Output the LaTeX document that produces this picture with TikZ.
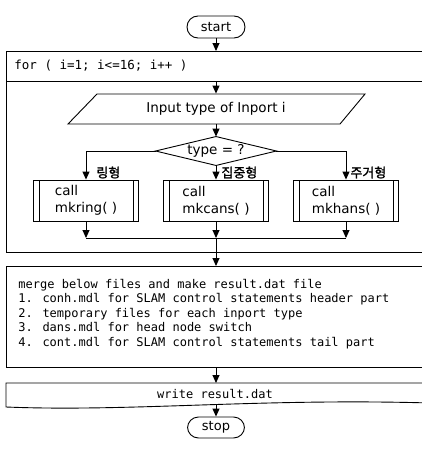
\documentclass[tikz,border=0pt]{standalone}
\usepackage{fontspec}
\setmainfont{DejaVu Sans}
\newfontfamily\monof{DejaVu Sans Mono}
\newfontfamily\kor[FakeBold=1.5]{Noto Sans CJK KR}
\usetikzlibrary{arrows.meta,shapes.geometric}
\begin{document}
\begin{tikzpicture}[x=1pt,y=-1pt,
  line width=0.9pt,
  arr/.style={-{Triangle[length=8pt,width=7pt]}},
  term/.style={draw,rounded corners=11pt,minimum width=58pt,minimum height=22pt,inner sep=0pt,font=\fontsize{13}{15}\selectfont},
  txt/.style={inner sep=0pt,font=\fontsize{13.5}{16}\selectfont},
  mono/.style={inner sep=0pt,font=\monof\fontsize{12}{14.5}\selectfont},
  korlab/.style={inner sep=0pt,anchor=west,font=\kor\fontsize{13}{15}\selectfont},
  predef/.style={draw,minimum width=105pt,minimum height=41pt,inner sep=0pt,align=left,
    font=\fontsize{13.5}{17}\selectfont,
    path picture={
      \draw ([xshift=5.5pt]path picture bounding box.north west) -- ([xshift=5.5pt]path picture bounding box.south west);
      \draw ([xshift=-5.5pt]path picture bounding box.north east) -- ([xshift=-5.5pt]path picture bounding box.south east);}},
  dec/.style={minimum width=120pt,minimum height=28pt,inner sep=0pt,font=\fontsize{13.5}{16}\selectfont}
]
\useasboundingbox (0,0) rectangle (422,453);
\clip (0,0) rectangle (422,453);

% start
\node[term] (start) at (216,27) {start};

% for loop frame
\draw (430,51) -- (6,51) -- (6,252) -- (430,252);
\draw (6,81) -- (430,81);
\coordinate (fortop) at (216,51);
\coordinate (forsep) at (216,81);
\coordinate (loopbot) at (216,252);
\node[mono,anchor=west,font=\monof\fontsize{12.5}{15}\selectfont] (fortext) at (14,66) {for ( i=1; i<=16; i++ )};

\draw[arr] (start.south) -- (fortop);

% input parallelogram
\draw (97,94) -- (365,94) -- (340,124) -- (68,124) -- cycle;
\node[txt,minimum height=30pt] (inp) at (216,109) {Input type of Inport i};
\draw[arr] (forsep) -- (inp.north);

% decision
\node[dec] (dec) at (216,151) {type = ?};
\draw (dec.north) -- (dec.east) -- (dec.south) -- (dec.west) -- cycle;
\draw[arr] (inp.south) -- (dec.north);

% call boxes
\node[predef] (b1) at (86,200.5) {call\\mkring( )};
\node[predef] (b2) at (216,200.5) {call\\mkcans( )};
\node[predef] (b3) at (346,200.5) {call\\mkhans( )};

\draw[arr] (dec.west) -| (b1.north);
\draw[arr] (dec.south) -- (b2.north);
\draw[arr] (dec.east) -| (b3.north);

\node[korlab] (l1) at (96,172.5) {링형};
\node[korlab] (l2) at (221,172.5) {집중형};
\node[korlab] (l3) at (350,172.5) {주거형};

% join
\coordinate (jn) at (216,238);
\draw[arr] (b1.south) -- (b1.south |- jn);
\draw[arr] (b2.south) -- (jn);
\draw[arr] (b3.south) -- (b3.south |- jn);
\draw (b1.south |- jn) -- (b3.south |- jn);
\draw (jn) -- (loopbot);

% merge box
\draw (430,266) -- (6,266) -- (6,367) -- (430,367);
\coordinate (mtop) at (216,266);
\coordinate (mbot) at (216,367);
\node[mono,anchor=west,align=left] (mtext) at (18,314) {merge below files and make result.dat file\\
1. conh.mdl for SLAM control statements header part\\
2. temporary files for each inport type\\
3. dans.mdl for head node switch\\
4. cont.mdl for SLAM control statements tail part};
\draw[arr] (loopbot) -- (mtop);

% write box
\draw (430,383) -- (6,383) -- (6,407) .. controls (130,412) and (260,398) .. (430,403);
\coordinate (wtop) at (216,383);
\coordinate (wbot) at (216,405);
\node[mono] (wtext) at (215,394) {write result.dat};
\draw[arr] (mbot) -- (wtop);

% stop
\node[term,minimum width=57pt,minimum height=21pt] (stop) at (216,427.5) {stop};
\draw[arr] (wbot) -- (stop.north);
\end{tikzpicture}
\end{document}
